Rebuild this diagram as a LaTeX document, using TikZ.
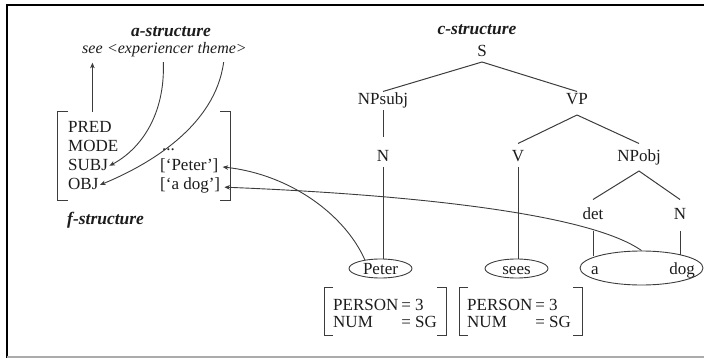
\documentclass[tikz,border=0pt]{standalone}
\usepackage{fontspec}
\setmainfont{Liberation Serif}
\usetikzlibrary{arrows.meta,shapes.geometric,positioning,calc}
\definecolor{ink}{HTML}{1C1C1C}
\definecolor{ln}{HTML}{3C3C3C}
\definecolor{rule}{HTML}{ABABAB}
\begin{document}
\begin{tikzpicture}[x=1pt,y=-1pt, font=\fontsize{17}{17}\selectfont, text=ink,
  title/.style={inner sep=0pt, anchor=base, font=\fontsize{17.5}{17.5}\selectfont\bfseries\itshape},
  aword/.style={inner sep=0pt, anchor=base west, text height=11pt, text depth=3.5pt, font=\fontsize{16}{16}\selectfont\itshape},
  attr/.style={inner sep=0pt, anchor=base west, text height=12pt, text depth=3pt},
  cat/.style={inner sep=0pt, outer sep=1.5pt, anchor=base, text height=12pt, text depth=3.5pt},
  tok/.style={draw=ln, ellipse, inner sep=0pt, text height=11pt, text depth=0pt, line width=0.9pt},
  branch/.style={draw=ln, line width=1pt},
  brk/.style={draw=ln, line width=1pt},
  arr/.style={draw=ln, line width=0.9pt, -{Stealth[length=5.5pt,width=4.5pt,inset=1.5pt]}},
]
\useasboundingbox (0,0) rectangle (704,358);

% frame
\draw[black, line width=2.2pt] (7,358) -- (7,5) -- (704,5);
\draw[rule, line width=1.6pt] (7,357) -- (704,357);

% ---- a-structure ----
\node[title] (alab) at (171,37) {a-structure};
\node[aword] (see) at (82,54) {see};
\node[aword, base right=4pt of see] (exp) {<experiencer};
\node[aword, base right=4pt of exp] (theme) {theme>};

% ---- f-structure ----
\node[attr] (pred) at (68,133) {PRED};
\node[attr] (mode) at (68,152) {MODE};
\node[attr] (subj) at (68,171) {SUBJ};
\node[attr] (obj)  at (68,190) {OBJ};
\node[attr] (dots) at (162,151) {...};
\node[attr] (peterval) at (160,171) {[‘Peter’]};
\node[attr] (dogval)   at (160,190) {[‘a dog’]};
\draw[brk] (68,112) -- (57,112) -- (57,201) -- (68,201);
\draw[brk] (220,112) -- (230,112) -- (230,201) -- (220,201);
\node[title, anchor=base west] (flab) at (67,225) {f-structure};

% ---- c-structure ----
\node[title] (clab) at (477,35) {c-structure};
\node[cat] (S)      at (482,57)  {S};
\node[cat] (NPsubj) at (383,105) {NPsubj};
\node[cat] (VP)     at (577,105) {VP};
\node[cat] (N)      at (383,162) {N};
\node[cat] (V)      at (518,162) {V};
\node[cat] (NPobj)  at (639,162) {NPobj};
\node[cat] (det)    at (593,220) {det};
\node[cat] (Nobj)   at (680,220) {N};

\node[tok, minimum width=63pt, minimum height=19pt] (peter) at (380.5,268.5) {Peter};
\node[tok, minimum width=63pt, minimum height=19pt] (sees)  at (516.5,268.5) {sees};
\node[draw=ln, ellipse, line width=0.9pt, inner sep=0pt,
      minimum width=123pt, minimum height=34pt] (adog) at (641.5,268) {};
\node[cat] (a)   at (595,274) {a};
\node[cat] (dog) at (682,274) {dog};

\draw[branch] (S.south) -- (NPsubj.north);
\draw[branch] (S.south) -- (VP.north);
\draw[branch, shorten >=11pt] (NPsubj.south) -- (N.north);
\draw[branch] ([yshift=-5pt]VP.south) -- ([yshift=5pt]V.north);
\draw[branch] ([yshift=-5pt]VP.south) -- ([yshift=5pt]NPobj.north);
\draw[branch] ([yshift=-4pt]NPobj.south) -- ([yshift=7pt]det.north);
\draw[branch] ([yshift=-4pt]NPobj.south) -- ([yshift=7pt]Nobj.north);
\draw[branch] (N.south) -- (N.south |- peter.north);
\draw[branch] (V.south) -- (V.south |- sees.north);
\draw[branch, shorten >=-5pt] ([yshift=-6pt]det.south) -- (det.south |- adog.north);
\draw[branch, shorten >=-4pt] ([yshift=-6pt]Nobj.south) -- (Nobj.south |- adog.north);

% ---- feature matrices ----
\node[anchor=base west, inner sep=0pt] (m1) at (333,310)
  {\begin{tabular}[t]{@{}l@{\hspace{3pt}}l@{}}PERSON & = 3\\ NUM & = SG\end{tabular}};
\node[anchor=base west, inner sep=0pt] (m2) at (467,310)
  {\begin{tabular}[t]{@{}l@{\hspace{3pt}}l@{}}PERSON & = 3\\ NUM & = SG\end{tabular}};
\draw[brk] (333,287) -- (324,287) -- (324,335) -- (333,335);
\draw[brk] (437,287) -- (446,287) -- (446,335) -- (437,335);
\draw[brk] (468,287) -- (459,287) -- (459,335) -- (468,335);
\draw[brk] (573,287) -- (582,287) -- (582,335) -- (573,335);

% ---- correspondences ----
\draw[arr, shorten >=5pt] (see.south |- 0,112) -- (see.south);
\draw[arr, shorten <=4.5pt, shorten >=1.5pt] ([xshift=13pt]exp.south)
  .. controls +(2,58) and +(32,-17) .. (subj.east);
\draw[arr, shorten <=4.5pt, shorten >=1.5pt] ([xshift=2pt]theme.south)
  .. controls +(-9,68) and +(51,-21) .. (obj.east);
\draw[arr, shorten >=4pt] (peter.151)
  .. controls +(-20,-45) and +(72,8) .. (peterval.east);
\draw[arr, shorten >=4pt] (adog.north)
  .. controls +(-51,-36) and +(200,8) .. ([yshift=-1.5pt]dogval.east);
\end{tikzpicture}
\end{document}
